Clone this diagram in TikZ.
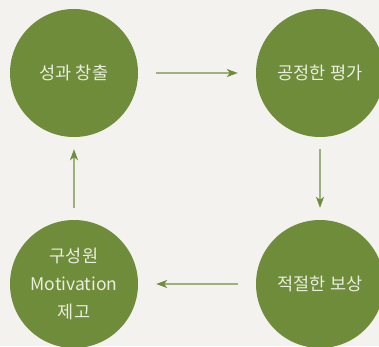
\documentclass[tikz,border=0pt]{standalone}
\usepackage{fontspec}
\setmainfont{Noto Sans CJK KR}
\usepackage{xcolor}
\usetikzlibrary{arrows.meta, positioning}
\definecolor{bgGray}{HTML}{F3F2EE}
\definecolor{leafGreen}{HTML}{6F8C3B}
\definecolor{lineGreen}{HTML}{9DB07F}
\definecolor{textPale}{HTML}{E9EDDD}
\tikzset{
    stageNode/.style={circle, fill=leafGreen, draw=none, minimum size=128pt, inner sep=0pt,
        text=textPale, align=center, font=\fontsize{17.5}{28}\selectfont},
    flowArrow/.style={->, draw=lineGreen, line width=1.3pt}
}

\begin{document}
\begin{tikzpicture}[x=1pt, y=1pt, >={Stealth[length=11pt, width=8pt, inset=3pt, color=leafGreen]}]
    \fill[bgGray] (0,0) rectangle (379,346);
    \useasboundingbox (0,0) rectangle (379,346);
    \node[stageNode] (Create) at (74,273) {성과 창출};
    \node[stageNode] (Assess) at (320,273) {공정한 평가};
    \node[stageNode] (Reward) at (320,62) {적절한 보상};
    \node[stageNode] (Motive) at (74,62) {구성원\\Motivation\\제고};
    \draw[flowArrow, shorten <=18pt, shorten >=18pt] (Create)--(Assess);
    \draw[flowArrow, shorten <=12pt, shorten >=12pt] (Assess)--(Reward);
    \draw[flowArrow, shorten <=18pt, shorten >=18pt] (Reward)--(Motive);
    \draw[flowArrow, shorten <=12pt, shorten >=12pt] (Motive)--(Create);
\end{tikzpicture}
\end{document}
